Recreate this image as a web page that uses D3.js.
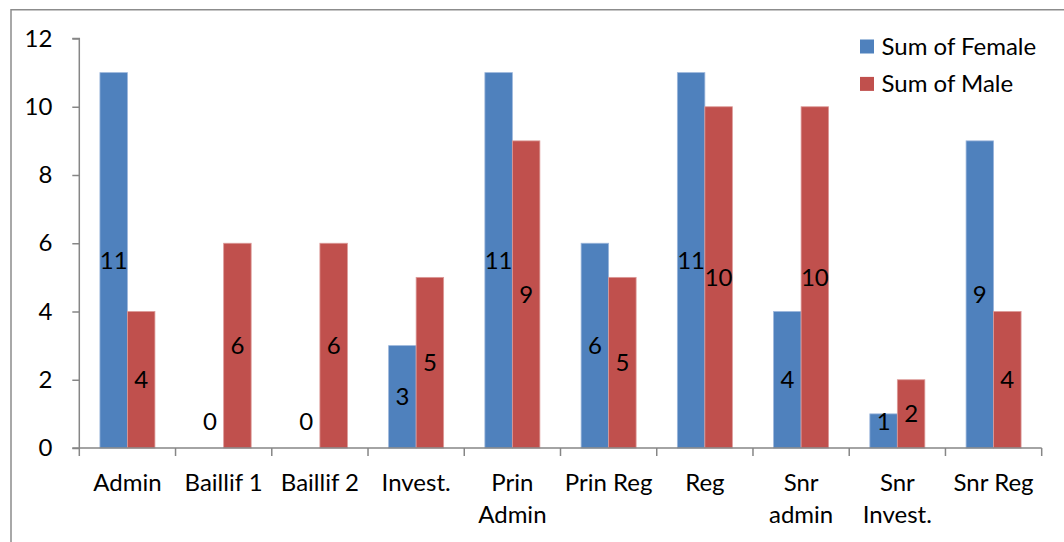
<!DOCTYPE html>
<html>
<head>
<meta charset="utf-8">
<script src="https://cdn.jsdelivr.net/npm/d3@7"></script>
<style>
  html, body { margin: 0; padding: 0; background: #fff; }
  svg text { font-family: Lato, "Open Sans", sans-serif; fill: #000; }
</style>
</head>
<body>
<svg id="chart" width="1064" height="542"></svg>
<script>
const categories = ["Admin", "Baillif 1", "Baillif 2", "Invest.", "Prin Admin", "Prin Reg", "Reg", "Snr admin", "Snr Invest.", "Snr Reg"];
const categoryLines = [["Admin"], ["Baillif 1"], ["Baillif 2"], ["Invest."], ["Prin", "Admin"], ["Prin Reg"], ["Reg"], ["Snr", "admin"], ["Snr", "Invest."], ["Snr Reg"]];
const female = [11, 0, 0, 3, 11, 6, 11, 4, 1, 9];
const male = [4, 6, 6, 5, 9, 5, 10, 10, 2, 4];
const seriesNames = ["Sum of Female", "Sum of Male"];
const seriesColors = ["#4F81BD", "#C0504D"];
const yTicks = [0, 2, 4, 6, 8, 10, 12];

const svg = d3.select("#chart");
const FS = 24;

// frame
svg.append("path").attr("d", "M11,542 L11,9.7 L1064,9.7")
  .attr("fill", "none").attr("stroke", "#8c8c8c").attr("stroke-width", 1.5);

const y = d3.scaleLinear().domain([0, 12]).range([448, 38.5]);
const x = d3.scaleBand().domain(categories).range([79.3, 1041.7]).paddingInner(0).paddingOuter(0);
const x1 = d3.scaleBand().domain(seriesNames).range([0, x.bandwidth()]).paddingInner(0).paddingOuter(0.75);

const data = categories.map((c, i) => ({ cat: c, i, vals: [female[i], male[i]] }));

// bars
const groups = svg.append("g").selectAll("g").data(data).join("g")
  .attr("transform", d => `translate(${x(d.cat)},0)`);
groups.selectAll("rect").data(d => d.vals.map((v, k) => ({ v, k })))
  .join("rect")
  .attr("x", d => x1(seriesNames[d.k]))
  .attr("y", d => y(d.v))
  .attr("width", x1.bandwidth())
  .attr("height", d => y(0) - y(d.v))
  .attr("fill", d => seriesColors[d.k])
  .attr("stroke", d => d.k === 0 ? "#9cb6db" : "#dc9a98")
  .attr("stroke-width", 0.8);

// value labels
groups.selectAll("text.val").data(d => d.vals.map((v, k) => ({ v, k })))
  .join("text").attr("class", "val")
  .attr("x", d => x1(seriesNames[d.k]) + x1.bandwidth() / 2)
  .attr("y", d => Math.min((y(d.v) + y(0)) / 2, y(0) - 26))
  .attr("dy", "0.35em")
  .attr("text-anchor", "middle")
  .attr("font-size", FS)
  .text(d => d.v);

// y axis
const yAxis = d3.axisLeft(y).tickValues(yTicks).tickSize(7).tickPadding(20);
const gy = svg.append("g").attr("transform", "translate(79.3,0)").call(yAxis);
gy.selectAll("path, line").attr("stroke", "#868686").attr("stroke-width", 1.5);
gy.select(".domain").attr("d", `M-7,${y(12)}H0V${y(0)}H-7`);
gy.selectAll("text").attr("font-size", FS).attr("font-family", null).attr("fill", "#000");

// x axis
const gx = svg.append("g");
gx.append("line").attr("x1", x.range()[0]).attr("x2", x.range()[1]).attr("y1", y(0)).attr("y2", y(0))
  .attr("stroke", "#868686").attr("stroke-width", 1.5);
const bounds = categories.map(c => x(c)).concat([x.range()[1]]);
gx.selectAll("line.tick").data(bounds).join("line").attr("class", "tick")
  .attr("x1", d => d).attr("x2", d => d).attr("y1", y(0)).attr("y2", y(0) + 8)
  .attr("stroke", "#868686").attr("stroke-width", 1.5);
const xl = gx.selectAll("text").data(data).join("text")
  .attr("x", d => x(d.cat) + x.bandwidth() / 2)
  .attr("y", 491)
  .attr("text-anchor", "middle")
  .attr("font-size", FS);
xl.selectAll("tspan").data(d => categoryLines[d.i].map(t => ({ t, cx: x(d.cat) + x.bandwidth() / 2 })))
  .join("tspan")
  .attr("x", d => d.cx)
  .attr("dy", (d, j) => j === 0 ? 0 : 31.5)
  .text(d => d.t);

// legend
const leg = svg.append("g");
const legRows = leg.selectAll("g").data(seriesNames).join("g")
  .attr("transform", (d, i) => `translate(860,${39.5 + i * 37.4})`);
legRows.append("rect").attr("width", 14).attr("height", 14).attr("fill", (d, i) => seriesColors[i]);
legRows.append("text").attr("x", 21.5).attr("y", 15).attr("font-size", FS).text(d => d);
</script>
</body>
</html>
